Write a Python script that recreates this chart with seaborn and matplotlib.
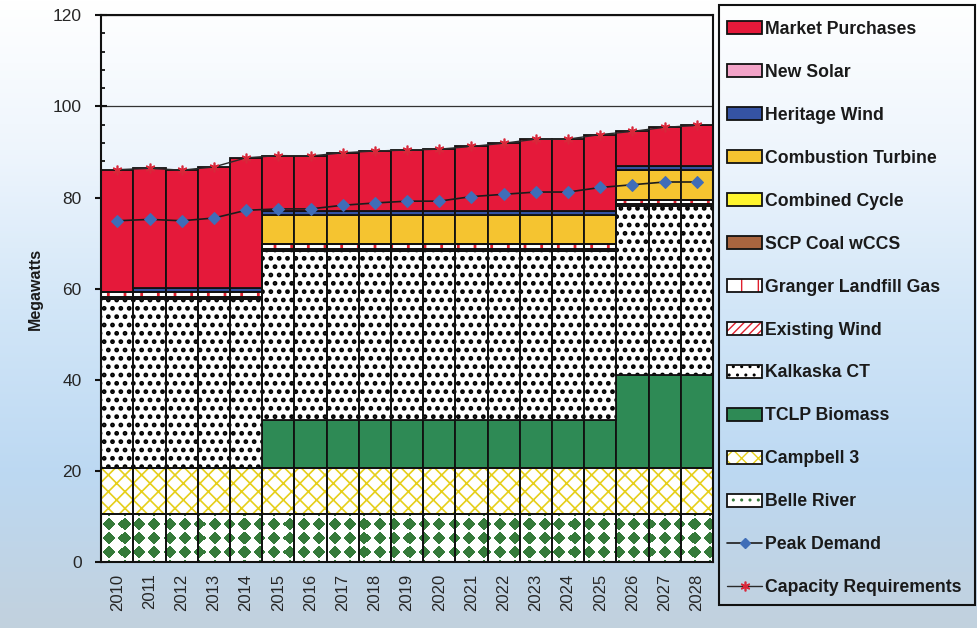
import numpy as np
import matplotlib
matplotlib.use("Agg")
import matplotlib.pyplot as plt
from matplotlib.patches import Patch, Rectangle
from matplotlib.lines import Line2D
from matplotlib.colors import to_rgba
from matplotlib.ticker import MultipleLocator, FixedLocator
import seaborn as sns

# ---- data (MW) ----
years = [str(y) for y in range(2010, 2029)]
belle_river = [10.5] * 19
campbell_3 = [10.3] * 19
tclp_biomass = [0.0] * 5 + [10.5] * 11 + [20.3] * 3
kalkaska_ct = [37.0] * 19
existing_wind = [0.4] * 19
granger_lfg = [1.0] * 19
scp_coal_wccs = [0.0] * 19
combined_cycle = [0.0] * 19
combustion_turbine = [0.0] * 5 + [6.5] * 14
heritage_wind = [0.0] + [0.9] * 18
new_solar = [0.0] * 19
capacity_req = [86.1, 86.4, 86.0, 86.7, 88.7, 89.2, 89.1, 89.8, 90.2, 90.4,
                90.6, 91.2, 91.9, 92.8, 92.8, 93.8, 94.5, 95.4, 95.8]
peak_demand = [74.9, 75.2, 74.9, 75.5, 77.2, 77.5, 77.5, 78.3, 78.8, 79.2,
               79.2, 80.2, 80.7, 81.2, 81.2, 82.2, 82.8, 83.4, 83.4]

sns.set_theme(style="white")
plt.rcParams["font.family"] = ["Liberation Sans", "DejaVu Sans"]

W, H = 978, 628
fig = plt.figure(figsize=(W / 100, H / 100), dpi=100)

# soft vertical gradient behind everything
bg = fig.add_axes([0, 0, 1, 1], zorder=-10)
bg.axis("off")
stops = np.array([
    [1.00, 1.00, 1.00],
    [0.93, 0.96, 0.99],
    [0.82, 0.90, 0.97],
    [0.74, 0.85, 0.95],
    [0.76, 0.82, 0.87],
])
t = np.linspace(0, 1, 256)
pos = np.linspace(0, 1, len(stops))
grad = np.stack([np.interp(t, pos, stops[:, c]) for c in range(3)], axis=-1)
bg.imshow(grad[:, None, :], aspect="auto", extent=[0, 1, 0, 1])

ax_rect = [0.1035, 0.1045, 0.6255, 0.8715]
ax = fig.add_axes(ax_rect)
ax.set_facecolor("none")

x = np.arange(len(years))
XLIM = (-0.5, len(years) - 0.5)
YLIM = (0, 120)


def diamond_texture(color, px=15, py=14, half=6.0, ox=8, oy=10):
    """RGBA tile covering the whole axes: a grid of filled diamonds."""
    wpx = int(round(ax_rect[2] * W))
    hpx = int(round(ax_rect[3] * H))
    xx, yy = np.meshgrid(np.arange(wpx) + 0.5, np.arange(hpx) + 0.5)
    cx = np.mod(xx - ox, px)
    cy = np.mod(yy - oy, py)
    dx = np.minimum(cx, px - cx)
    dy = np.minimum(cy, py - cy)
    inside = (dx + dy) <= half
    tex = np.zeros((hpx, wpx, 4))
    tex[inside] = to_rgba(color)
    return tex


# stacking order, bottom to top:
# (label, values, face, pattern colour, hatch, hatch lw, legend hatch, legend hatch lw)
layers = [
    ("Belle River", belle_river, "white", "#357A3A", "diamonds", 1.0, "..", 3.0),
    ("Campbell 3", campbell_3, "white", "#E6CF1A", "xx", 1.2, "xx", 1.2),
    ("TCLP Biomass", tclp_biomass, "#2E8A55", None, None, 1.0, None, 1.0),
    ("Kalkaska CT", kalkaska_ct, "white", "black", "..", 2.2, "..", 2.2),
    ("Existing Wind", existing_wind, "white", "#E0202E", "////", 1.2, "////", 1.2),
    ("Granger Landfill Gas", granger_lfg, "white", "#E0202E", "|", 2.0, "|", 2.0),
    ("SCP Coal wCCS", scp_coal_wccs, "#A9653F", None, None, 1.0, None, 1.0),
    ("Combined Cycle", combined_cycle, "#FFF52E", None, None, 1.0, None, 1.0),
    ("Combustion Turbine", combustion_turbine, "#F5C430", None, None, 1.0, None, 1.0),
    ("Heritage Wind", heritage_wind, "#3553A3", None, None, 1.0, None, 1.0),
    ("New Solar", new_solar, "#F3A3C8", None, None, 1.0, None, 1.0),
]
others = np.sum([np.array(row[1]) for row in layers], axis=0)
market_purchases = list(np.round(np.array(capacity_req) - others, 2))
layers.append(("Market Purchases", market_purchases, "#E5193A", None, None, 1.0, None, 1.0))

handles = {}
bottom = np.zeros(len(years))
for label, vals, face, hcol, hatch, hlw, lhatch, lhlw in layers:
    vals = np.array(vals, dtype=float)
    if hatch == "diamonds":
        bars = ax.bar(x, vals, bottom=bottom, width=1.0, color=face,
                      linewidth=0, zorder=2)
        tex = diamond_texture(hcol)
        for b in bars:
            im = ax.imshow(tex, extent=(*XLIM, *YLIM), origin="lower",
                           interpolation="nearest", aspect="auto", zorder=2.2)
            im.set_clip_path(b)
    elif hatch:
        with plt.rc_context({"hatch.linewidth": hlw}):
            ax.bar(x, vals, bottom=bottom, width=1.0, color=face,
                   edgecolor=hcol, hatch=hatch, linewidth=0, zorder=2)
    else:
        ax.bar(x, vals, bottom=bottom, width=1.0, color=face,
               edgecolor="#111111", linewidth=1.3, zorder=2)
        handles[label] = Patch(facecolor=face, edgecolor="#111111", linewidth=1.3)
    if hatch:
        ax.bar(x, vals, bottom=bottom, width=1.0, fill=False,
               edgecolor="#111111", linewidth=1.3, zorder=3)
        with plt.rc_context({"hatch.linewidth": lhlw}):
            fill_proxy = Patch(facecolor=face, edgecolor=hcol, hatch=lhatch, linewidth=0)
        handles[label] = (fill_proxy, Patch(fill=False, edgecolor="#111111", linewidth=1.3))
    bottom = bottom + vals

sns.lineplot(x=x, y=peak_demand, ax=ax, color="#1c1c1c", linewidth=1.2,
             marker="D", markersize=6.5, markerfacecolor="#3F6DB8",
             markeredgecolor="#3F6DB8", zorder=5)
sns.lineplot(x=x, y=capacity_req, ax=ax, color="#2a2a2a", linewidth=1.0,
             marker=(6, 2, 0), markersize=7, markeredgecolor="#D8283A",
             markeredgewidth=1.2, zorder=5)

ax.set_xlim(*XLIM)
ax.set_ylim(*YLIM)
ax.yaxis.set_major_locator(MultipleLocator(20))
ax.yaxis.set_minor_locator(MultipleLocator(4))
ax.grid(axis="y", which="major", color="#333333", linewidth=0.9, zorder=0)
ax.set_axisbelow(True)

ax.set_xticks(x)
ax.set_xticklabels(years, rotation=90, fontsize=12)
ax.xaxis.set_minor_locator(FixedLocator(np.arange(-0.5, len(years), 1.0)))
ax.tick_params(axis="x", which="major", length=0, pad=8)
ax.tick_params(axis="x", which="minor", length=5, width=1.5, direction="inout", color="#111111")
ax.tick_params(axis="y", which="major", length=8, width=1.5, direction="inout",
               color="#111111", labelsize=12.5, pad=10, left=True)
ax.tick_params(axis="y", which="minor", length=3, width=1.3, direction="in",
               color="#111111", left=True)
for sp in ax.spines.values():
    sp.set_color("#111111")
    sp.set_linewidth(1.5)
    sp.set_visible(True)

ax.set_ylabel("Megawatts", fontsize=11.5, fontweight="bold", color="#1a1a1a", labelpad=7)

# legend frame spanning the right-hand column
fig.patches.append(Rectangle((719 / W, 1 - 605 / H), (975 - 719) / W, (605 - 5) / H,
                             transform=fig.transFigure, fill=False,
                             edgecolor="#111111", linewidth=1.5, zorder=1))

order = ["Market Purchases", "New Solar", "Heritage Wind", "Combustion Turbine",
         "Combined Cycle", "SCP Coal wCCS", "Granger Landfill Gas", "Existing Wind",
         "Kalkaska CT", "TCLP Biomass", "Campbell 3", "Belle River"]
leg_handles = [handles[k] for k in order]
leg_handles.append(Line2D([], [], color="#1c1c1c", linewidth=1.2, marker="D",
                          markersize=5, markerfacecolor="#3F6DB8", markeredgecolor="#3F6DB8"))
leg_handles.append(Line2D([], [], color="#2a2a2a", linewidth=1.0, marker=(6, 2, 0),
                          markersize=7, markeredgecolor="#D8283A", markeredgewidth=1.2))
labels = order + ["Peak Demand", "Capacity Requirements"]

leg = fig.legend(leg_handles, labels, loc="upper left",
                 bbox_to_anchor=(727 / W, 1 - 21 / H),
                 prop={"weight": "bold", "size": 12.7}, frameon=False,
                 handlelength=2.0, handleheight=0.75, handletextpad=0.15,
                 labelspacing=1.47, borderpad=0.0, borderaxespad=0.0)
for txt in leg.get_texts():
    txt.set_color("#1a1a1a")

fig.savefig("out.png", dpi=100)
